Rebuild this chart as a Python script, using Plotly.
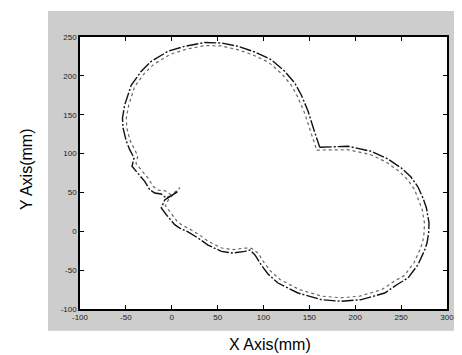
import plotly.graph_objects as go

# Measured trajectory (dash-dot) and reference trajectory (dotted), in mm
meas_x = [161.3, 175.7, 192.1, 217.5, 235.7, 250.2, 260.8, 268.4, 273.8, 277.6, 280.4, 280.0, 278.2, 275.7,
          268.4, 257.5, 246.6, 232.1, 206.6, 184.8, 163.0, 137.6, 115.8, 104.9, 97.6, 90.7, 85.3, 79.5,
          66.8, 54.0, 39.5, 28.6, 17.7, 8.7, 3.2, -5.9, -11.4, -7.7, 6.8, -0.5, -5.9, -11.4, -18.6, -24.0,
          -29.5, -36.8, -43.3, -41.1, -45.8, -49.5, -53.1, -53.7, -51.3, -44.1, -33.2, -22.3, -4.1, 14.1,
          35.9, 54.0, 72.2, 90.4, 108.5, 123.1, 134.0, 141.2, 148.5, 155.0, 161.3]
meas_y = [108.1, 109.1, 109.4, 102.9, 93.0, 81.4, 69.8, 57.0, 42.8, 30.0, 10.7, -2.2, -15.1, -24.1,
          -43.0, -60.1, -67.8, -79.4, -88.0, -90.1, -88.0, -79.4, -66.6, -55.0, -43.4, -30.5, -24.1, -25.8,
          -28.0, -25.8, -17.7, -8.6, -0.9, 4.2, 8.5, 21.3, 30.0, 40.3, 51.2, 46.0, 42.8, 48.0, 49.3, 53.5,
          64.3, 75.0, 83.6, 94.3, 105.0, 115.8, 132.9, 145.8, 162.5, 188.2, 205.9, 218.7, 231.6, 238.0,
          242.9, 242.3, 238.0, 230.7, 220.8, 205.9, 190.8, 175.4, 154.8, 130.3, 108.1]

ref_x = [158.0, 175.0, 192.0, 216.0, 233.0, 247.0, 257.0, 264.5, 269.5, 273.0, 275.5, 275.0, 273.5, 271.0,
         264.0, 253.5, 243.0, 229.0, 205.0, 184.0, 163.5, 139.0, 118.0, 107.5, 100.5, 94.0, 87.0, 80.0,
         67.0, 54.5, 40.5, 30.0, 19.5, 11.0, 6.0, -2.0, -7.0, -3.0, 9.0, 3.0, -1.0, -7.0, -14.5, -20.0,
         -25.5, -32.5, -39.0, -37.0, -41.5, -45.5, -49.0, -49.5, -47.0, -40.5, -30.0, -19.5, -2.0, 15.0,
         36.0, 53.5, 71.0, 88.5, 105.5, 119.5, 130.0, 137.0, 144.5, 151.0, 158.0]
ref_y = [104.5, 105.0, 105.0, 99.0, 89.5, 78.0, 66.5, 54.0, 40.0, 28.0, 10.0, -2.0, -14.0, -22.5,
         -40.5, -57.0, -64.0, -75.0, -83.5, -85.5, -83.5, -75.0, -62.0, -51.0, -40.0, -28.0, -22.0, -21.5,
         -23.5, -21.5, -13.5, -4.5, 3.0, 8.0, 12.5, 25.0, 33.0, 42.0, 56.0, 50.0, 47.0, 52.0, 53.0, 57.5,
         68.0, 78.5, 87.0, 97.0, 107.0, 117.0, 133.0, 145.5, 162.0, 186.0, 203.0, 215.0, 227.5, 234.0,
         239.0, 238.5, 234.0, 227.0, 217.5, 203.0, 188.5, 173.5, 153.0, 128.5, 104.5]

x_ticks = [-100, -50, 0, 50, 100, 150, 200, 250, 300]
y_ticks = [-100, -50, 0, 50, 100, 150, 200, 250]

fig = go.Figure()
fig.add_trace(go.Scatter(x=ref_x, y=ref_y, mode="lines",
                         line=dict(color="#666666", width=1.2, dash="dot"), showlegend=False))
fig.add_trace(go.Scatter(x=meas_x, y=meas_y, mode="lines",
                         line=dict(color="#111111", width=1.4, dash="12px,2px,2px,2px"), showlegend=False))

axis_common = dict(showgrid=False, zeroline=False, showline=True, linecolor="black", linewidth=1.5,
                   mirror="allticks", ticks="inside", ticklen=4, tickcolor="black",
                   tickfont=dict(family="Arial", size=8, color="#222222"))
fig.update_xaxes(range=[-100, 300], tickvals=x_ticks, ticktext=[str(v) for v in x_ticks], **axis_common)
fig.update_yaxes(range=[-100, 250], tickvals=y_ticks, ticktext=[str(v) for v in y_ticks], **axis_common)

fig.update_layout(
    width=462, height=355,
    margin=dict(l=72, r=23, t=29, b=54),
    paper_bgcolor="white", plot_bgcolor="white",
    shapes=[
        dict(type="rect", xref="paper", yref="paper", x0=-0.0872, x1=1.07, y0=-0.08, y1=1.0956,
             fillcolor="#cdcdcd", line=dict(width=0), layer="below"),
        dict(type="rect", xref="paper", yref="paper", x0=0, x1=1, y0=0, y1=1,
             fillcolor="white", line=dict(width=0), layer="below"),
    ],
    annotations=[
        dict(text="X Axis(mm)", xref="paper", yref="paper", x=(262 - 72) / 367, y=(301 - 336) / 272,
             showarrow=False, xanchor="center", yanchor="middle",
             font=dict(family="Arial", size=16, color="black")),
        dict(text="Y Axis(mm)", xref="paper", yref="paper", x=(18 - 72) / 367, y=(301 - 162) / 272,
             showarrow=False, xanchor="center", yanchor="middle", textangle=-90,
             font=dict(family="Arial", size=16, color="black")),
    ],
)

fig.write_html("out.html")
